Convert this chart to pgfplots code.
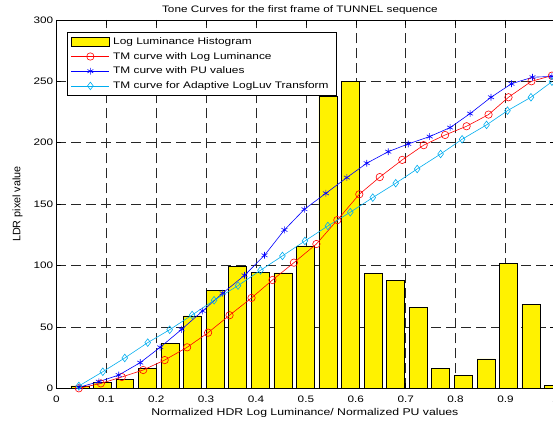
\documentclass[border=0pt]{standalone}
\usepackage{fontspec}
\setmainfont[FakeStretch=1.25]{Liberation Sans}
\newfontfamily\ylfont{Liberation Sans}
\usepackage{pgfplots}
\pgfplotsset{compat=1.18}
\pgfplotsset{
  mylinelegend/.style={legend image code/.code={\draw[mark repeat=2,mark phase=2,##1] plot coordinates {(0pt,0pt)(19pt,0pt)(38pt,0pt)};}},
  mybarlegend/.style={legend image code/.code={\draw[##1] (0pt,-4.7pt) rectangle (38pt,4.7pt);}},
}

\pgfplotstableread{
x h
0.047 2
0.092 5
0.137 7
0.183 16.5
0.228 36.5
0.273 59
0.318 80
0.363 99.5
0.409 94.5
0.454 94
0.499 116
0.544 238
0.589 250
0.635 93.5
0.680 88
0.725 66
0.770 16.5
0.815 10.5
0.861 24
0.906 102
0.951 68.5
0.996 2.5
}\histdata

\pgfplotstableread{
x y
0.045 0
0.089 4
0.131 9.2
0.174 14.9
0.217 23
0.262 33.4
0.304 45.3
0.347 59.5
0.391 73.6
0.433 88.2
0.476 102.3
0.521 117.5
0.563 137
0.607 158
0.648 172
0.693 186
0.736 198
0.779 206.3
0.822 213.4
0.866 222.9
0.906 237
0.952 250
0.993 254.6
}\logdata

\pgfplotstableread{
x y
0.045 0.8
0.085 5.4
0.125 10.8
0.168 20.9
0.208 33.4
0.251 48
0.293 63
0.333 77.4
0.377 92
0.417 108.3
0.457 129
0.497 145.8
0.540 158.8
0.582 171.6
0.622 183.3
0.665 192.7
0.705 199
0.748 205
0.789 212.3
0.829 223.7
0.871 237
0.912 248
0.954 253.3
0.993 254
}\pudata

\pgfplotstableread{
x y
0.045 1.9
0.093 13.5
0.137 24.7
0.183 37.2
0.227 47.7
0.272 59.7
0.316 71.7
0.364 83.6
0.409 96.1
0.453 107.8
0.498 120
0.544 132.2
0.589 143.4
0.634 155.3
0.680 167
0.723 178.6
0.770 190.8
0.813 202.8
0.862 214.5
0.904 226.1
0.951 237
0.993 249.7
}\luvdata

\begin{document}
\begin{tikzpicture}
\begin{axis}[
  at={(0,0)}, anchor=south west,
  scale only axis,
  width=499pt, height=368.4pt,
  xmin=0, xmax=1, ymin=0, ymax=300,
  xtick={0,0.1,...,1.0},
  ytick={0,50,...,300},
  xticklabels={0,0.1,0.2,0.3,0.4,0.5,0.6,0.7,0.8,0.9,1},
  /pgf/number format/assume math mode=true,
  tick align=inside,
  major tick length=5pt,
  tick style={black, line width=0.5pt},
  grid=major,
  major grid style={black!85, line width=0.5pt, dash pattern=on 10pt off 5pt},
  axis line style={black, line width=0.6pt},
  ticklabel style={font=\fontsize{9.4}{11}\selectfont},
  xticklabel style={anchor=base, yshift=-14pt, inner sep=0pt},
  yticklabel style={anchor=east, xshift=-3pt, inner sep=0pt},
  every axis title shift=0pt,
  title={Tone Curves for the first frame of TUNNEL sequence},
  title style={at={(axis description cs:0.5,1)}, anchor=base, yshift=7pt, xshift=-6pt, inner sep=0pt,
    font=\fontsize{9.4}{11}\selectfont},
  xlabel={Normalized HDR Log Luminance/ Normalized PU values},
  xlabel style={at={(axis description cs:0.5,0)}, anchor=base, yshift=-26.7pt, xshift=-1pt, inner sep=0pt,
    font=\fontsize{9.8}{11}\selectfont},
  ylabel={LDR pixel value},
  ylabel style={at={(axis description cs:-0.0776,0.5)}, anchor=center, inner sep=0pt,
    font=\ylfont\fontsize{10.8}{12}\selectfont},
  legend style={at={(axis description cs:0.0206,0.967)}, anchor=north west,
    draw=black, line width=0.8pt, fill=white, inner xsep=4pt, inner ysep=2pt,
    row sep=0pt, font=\fontsize{9.5}{11}\selectfont,
    nodes={inner xsep=3.5pt, inner ysep=2.85pt, text height=7pt, text depth=2pt}},
  legend cell align=left,
]
\addplot[ybar, bar width=0.036, fill=yellow, draw=black, line width=0.5pt, mybarlegend]
  table[x=x, y=h] {\histdata};
\addlegendentry{Log Luminance Histogram}

\addplot[red, line width=0.6pt, mark=o, mark size=3.7pt, mark options={solid, line width=0.6pt}, mylinelegend]
  table[x=x, y=y] {\logdata};
\addlegendentry{TM curve with Log Luminance}

\addplot[blue, line width=0.6pt, mark=asterisk, mark size=3.4pt, mark options={solid, line width=0.6pt}, mylinelegend]
  table[x=x, y=y] {\pudata};
\addlegendentry{TM curve with PU values}

\addplot[cyan, line width=0.6pt, mark=diamond, mark size=3.8pt, mark options={solid, line width=0.6pt}, mylinelegend]
  table[x=x, y=y] {\luvdata};
\addlegendentry{TM curve for Adaptive LogLuv Transform}
\end{axis}
\pgfresetboundingbox
\useasboundingbox (-56.4pt,-34.7pt) rectangle (496.6pt,388.3pt);
\end{tikzpicture}
\end{document}
